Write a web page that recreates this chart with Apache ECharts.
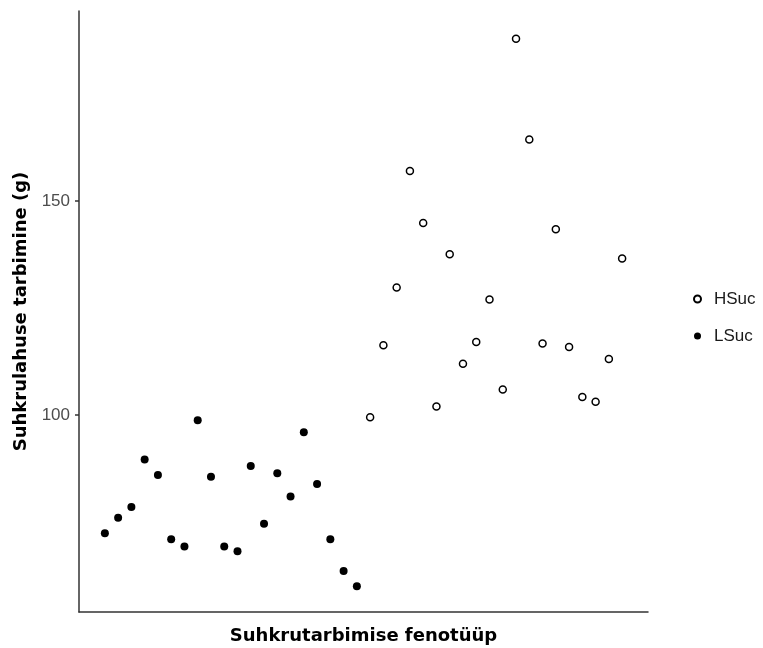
<!DOCTYPE html>
<html>
<head>
<meta charset="utf-8">
<script src="https://cdn.jsdelivr.net/npm/echarts@6/dist/echarts.min.js"></script>
<style>
    html, body { margin: 0; padding: 0; background: #fff; }
    #chart { width: 763px; height: 648px; }
</style>
</head>
<body>
<div id="chart"></div>
<script>
    // järjekorranumbrid x-teljel (silte ei näidata)
    var lsucX = [1, 2, 3, 4, 5, 6, 7, 8, 9, 10, 11, 12, 13, 14, 15, 16, 17, 18, 19, 20];
    var hsucX = [21, 22, 23, 24, 25, 26, 27, 28, 29, 30, 31, 32, 33, 34, 35, 36, 37, 38, 39, 40];
    // suhkrulahuse tarbimine (g)
    var lsucValues = [72.4, 76.0, 78.5, 89.6, 86.0, 71.0, 69.3, 98.8, 85.6, 69.3,
                      68.2, 88.1, 74.6, 86.4, 81.0, 96.0, 83.9, 71.0, 63.6, 60.0];
    var hsucValues = [99.5, 116.3, 129.8, 157.0, 144.9, 102.0, 137.6, 112.0, 117.1, 127.0,
                      106.0, 187.9, 164.4, 116.7, 143.4, 115.9, 104.2, 103.1, 113.1, 136.6];
    var yTicks = [100, 150];

    function pairs(xs, ys) {
        return xs.map(function (x, i) { return [x, ys[i]]; });
    }

    var myChart = echarts.init(document.getElementById('chart'));
    myChart.setOption({
        animation: false,
        backgroundColor: '#fff',
        grid: {
            left: 79,
            right: 115,
            top: 11,
            bottom: 36,
            containLabel: false,
            outerBoundsMode: 'none'
        },
        legend: {
            orient: 'vertical',
            left: 688,
            top: 285,
            itemWidth: 7,
            itemHeight: 7,
            itemGap: 19,
            icon: 'circle',
            data: ['HSuc', 'LSuc'],
            textStyle: {
                fontFamily: 'Liberation Sans',
                fontSize: 17,
                color: '#1a1a1a',
                lineHeight: 18,
                padding: [0, 0, 0, 8]
            }
        },
        xAxis: {
            type: 'value',
            min: -0.95,
            max: 41.95,
            name: 'Suhkrutarbimise fenotüüp',
            nameLocation: 'middle',
            nameGap: 15,
            nameTextStyle: {
                fontFamily: 'DejaVu Sans',
                fontWeight: 'bold',
                fontSize: 18,
                color: '#000',
                verticalAlign: 'top'
            },
            splitLine: { show: false },
            axisTick: { show: false },
            axisLabel: { show: false },
            axisLine: { show: true, onZero: false, lineStyle: { color: '#333', width: 1.5 } }
        },
        yAxis: {
            type: 'value',
            min: 54.0,
            max: 194.4,
            name: 'Suhkrulahuse tarbimine (g)',
            nameLocation: 'middle',
            nameGap: 47,
            nameTextStyle: {
                fontFamily: 'DejaVu Sans',
                fontWeight: 'bold',
                fontSize: 18,
                color: '#000'
            },
            splitLine: { show: false },
            axisLine: { show: true, onZero: false, lineStyle: { color: '#333', width: 1.5 } },
            axisTick: {
                show: true,
                length: 4,
                customValues: yTicks,
                lineStyle: { color: '#333', width: 1.5 }
            },
            axisLabel: {
                customValues: yTicks,
                margin: 9,
                fontFamily: 'Liberation Sans',
                fontSize: 17,
                color: '#4d4d4d'
            }
        },
        series: [
            {
                name: 'HSuc',
                type: 'scatter',
                symbol: 'circle',
                symbolSize: 7,
                itemStyle: { color: '#fff', borderColor: '#000', borderWidth: 1.5, opacity: 1 },
                data: pairs(hsucX, hsucValues)
            },
            {
                name: 'LSuc',
                type: 'scatter',
                symbol: 'circle',
                symbolSize: 8,
                itemStyle: { color: '#000', opacity: 1 },
                data: pairs(lsucX, lsucValues)
            }
        ]
    });
</script>
</body>
</html>
